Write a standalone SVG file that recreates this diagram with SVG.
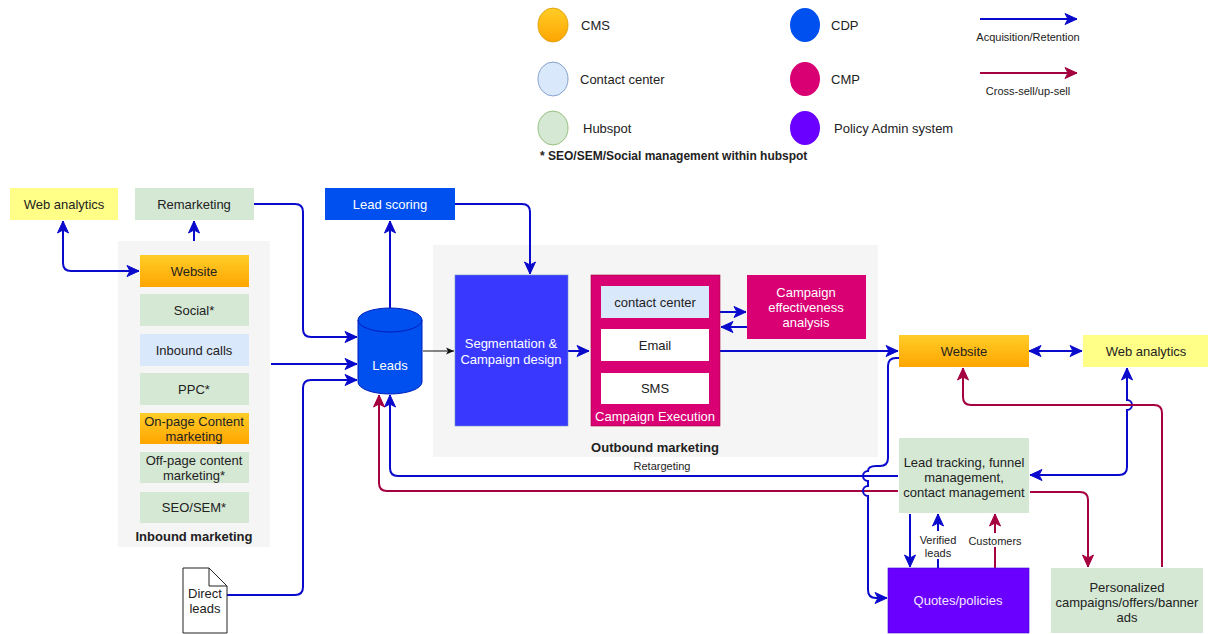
<svg xmlns="http://www.w3.org/2000/svg" width="1208" height="634" viewBox="0 0 1208 634">
<style>
text{font-family:"Liberation Sans",Arial,sans-serif;font-size:13px;fill:#222;text-anchor:middle}
.lt{text-anchor:start}
.w{fill:#fff}
.b{font-weight:bold}
.s{font-size:12px}
.xs{font-size:11px}
.green{fill:#d5e8d4}
.lblue{fill:#dae8fc}
.yellow{fill:#ffff88}
.orange{fill:url(#og)}
.cdp{fill:#0050ef}
.cmp{fill:#d80073}
.pas{fill:#6a00ff}
.grp{fill:#f5f5f5}
.cb{fill:none;stroke:#0a0acc;stroke-width:2}
.cr{fill:none;stroke:#a50040;stroke-width:2}
.ck{fill:none;stroke:#111;stroke-width:1}
.ab{marker-end:url(#mb)}
.ar{marker-end:url(#mr)}
.ab2{marker-start:url(#mb);marker-end:url(#mb)}
</style>
<defs>
<linearGradient id="og" x1="0" y1="0" x2="0" y2="1"><stop offset="0" stop-color="#ffcd28"/><stop offset="1" stop-color="#ffa500"/></linearGradient>
<marker id="mb" markerUnits="userSpaceOnUse" markerWidth="14" markerHeight="14" viewBox="0 0 14 14" refX="13" refY="7" orient="auto-start-reverse"><path d="M1,1.5 L13,7 L1,12.5 L4,7 Z" fill="#0a0acc" stroke="#0a0acc" stroke-width="1"/></marker>
<marker id="mr" markerUnits="userSpaceOnUse" markerWidth="14" markerHeight="14" viewBox="0 0 14 14" refX="13" refY="7" orient="auto-start-reverse"><path d="M1,1.5 L13,7 L1,12.5 L4,7 Z" fill="#a50040" stroke="#a50040" stroke-width="1"/></marker>
<marker id="mk" markerUnits="userSpaceOnUse" markerWidth="10" markerHeight="10" viewBox="0 0 10 10" refX="9" refY="5" orient="auto"><path d="M1,1.5 L9,5 L1,8.5 L3,5 Z" fill="#111"/></marker>
</defs>
<rect width="1208" height="634" fill="#fff"/>

<!-- Legend -->
<g id="legend">
<ellipse cx="553" cy="25" rx="15" ry="17" class="orange" stroke="#d79b00" stroke-width="0.8"/>
<text x="581" y="30" class="lt">CMS</text>
<ellipse cx="553" cy="79" rx="15" ry="17" class="lblue" stroke="#6c8ebf" stroke-width="0.8"/>
<text x="580" y="84" class="lt">Contact center</text>
<ellipse cx="553" cy="128" rx="15" ry="17" class="green" stroke="#82b366" stroke-width="0.8"/>
<text x="583" y="133" class="lt">Hubspot</text>
<ellipse cx="805" cy="25" rx="15" ry="17" class="cdp"/>
<text x="831" y="30" class="lt">CDP</text>
<ellipse cx="805" cy="79" rx="15" ry="17" class="cmp"/>
<text x="831" y="84" class="lt">CMP</text>
<ellipse cx="805" cy="128" rx="15" ry="17" class="pas"/>
<text x="834" y="133" class="lt">Policy Admin system</text>
<text x="540" y="160" class="lt b s">* SEO/SEM/Social management within hubspot</text>
<path d="M980,19 L1077,19" class="cb ab"/>
<text x="1028" y="41" class="xs">Acquisition/Retention</text>
<path d="M980,73 L1077,73" class="cr ar"/>
<text x="1028" y="95" class="xs">Cross-sell/up-sell</text>
</g>

<!-- Groups -->
<g id="inbound-marketing">
<rect x="118" y="241" width="152" height="306" class="grp"/>
<text x="194" y="541" class="b">Inbound marketing</text>
</g>
<g id="outbound-marketing">
<rect x="433" y="245" width="445" height="212" class="grp"/>
<text x="655" y="452" class="b">Outbound marketing</text>
</g>

<!-- Connectors -->
<g id="connectors">
<path d="M63,221 L63,263 Q63,271 71,271 L139,271" class="cb ab2"/>
<path d="M194,241 L194,221" class="cb ab"/>
<path d="M254,204 L295,204 Q303,204 303,212 L303,329 Q303,337 311,337 L357,337" class="cb ab"/>
<path d="M271,364 L357,364" class="cb ab"/>
<path d="M227,595 L295,595 Q303,595 303,587 L303,388 Q303,380 311,380 L357,380" class="cb ab"/>
<path d="M390,308 L390,221" class="cb ab"/>
<path d="M455,204 L522,204 Q530,204 530,212 L530,274" class="cb ab"/>
<path d="M423,351 L454,351" class="ck" marker-end="url(#mk)"/>
<path d="M568,351 L589,351" class="cb ab"/>
<path d="M720,312 L746,312" class="cb ab"/>
<path d="M747,327 L721,327" class="cb ab"/>
<path d="M720,351 L898,351" class="cb ab"/>
<path d="M1029,351 L1082,351" class="cb ab2"/>
<path d="M1127,368 L1127,400 A5,5 0 0 1 1127,410 L1127,467 Q1127,475 1119,475 L1030,475" class="cb ab2"/>
<path d="M1162,567 L1162,413 Q1162,405 1154,405 L971,405 Q963,405 963,397 L963,368" class="cr ar"/>
<path d="M898,476 L398,476 Q390,476 390,468 L390,395" class="cb ab"/>
<path d="M898,491 L387,491 Q379,491 379,483 L379,395" class="cr ar"/>
<path d="M1030,492 L1080,492 Q1088,492 1088,500 L1088,567" class="cr ar"/>
<path d="M910,514 L910,567" class="cb ab"/>
<path d="M938,568 L938,514" class="cb ab"/>
<path d="M995,568 L995,514" class="cr ar"/>
<path d="M899,358 L896,358 Q888,358 888,366 L888,458 Q888,466 880,466 L876,466 Q868,466 868,471 A5,5 0 0 0 868,481 L868,486 A5,5 0 0 0 868,496 L868,590 Q868,598 876,598 L887,598" class="cb ab"/>
<text x="662" y="470" class="xs">Retargeting</text>
<rect x="918" y="531" width="40" height="28" fill="#fff"/>
<text x="938" y="544" class="xs">Verified</text>
<text x="938" y="557" class="xs">leads</text>
<rect x="968" y="533" width="54" height="14" fill="#fff"/>
<text x="995" y="545" class="xs">Customers</text>
</g>

<!-- Nodes -->
<g id="web-analytics-left"><rect x="10" y="188" width="108" height="32" class="yellow"/><text x="64" y="209">Web analytics</text></g>
<g id="remarketing"><rect x="135" y="188" width="119" height="32" class="green"/><text x="194" y="209">Remarketing</text></g>
<g id="website-left"><rect x="140" y="255" width="109" height="32" class="orange"/><text x="194" y="276">Website</text></g>
<g id="social"><rect x="140" y="294" width="109" height="32" class="green"/><text x="194" y="315">Social*</text></g>
<g id="inbound-calls"><rect x="140" y="334" width="109" height="32" class="lblue"/><text x="194" y="355">Inbound calls</text></g>
<g id="ppc"><rect x="140" y="373" width="109" height="32" class="green"/><text x="194" y="394">PPC*</text></g>
<g id="onpage"><rect x="140" y="413" width="109" height="31" class="orange"/><text x="194" y="426">On-page Content</text><text x="194" y="441">marketing</text></g>
<g id="offpage"><rect x="140" y="452" width="109" height="31" class="green"/><text x="194" y="465">Off-page content</text><text x="194" y="480">marketing*</text></g>
<g id="seosem"><rect x="140" y="492" width="109" height="31" class="green"/><text x="194" y="512">SEO/SEM*</text></g>
<g id="direct-leads"><path d="M183,568 L209,568 L227,586 L227,633 L183,633 Z" fill="#fff" stroke="#222" stroke-width="1"/><path d="M209,568 L209,586 L227,586" fill="none" stroke="#222" stroke-width="1"/><text x="205" y="598">Direct</text><text x="205" y="613">leads</text></g>
<g id="leads"><path d="M358,320 A32,12 0 0 1 422,320 L422,382 A32,12 0 0 1 358,382 Z" class="cdp" stroke="#001dbc" stroke-width="1"/><path d="M358,320 A32,12 0 0 0 422,320" fill="none" stroke="#001dbc" stroke-width="1"/><text x="390" y="370" class="w">Leads</text></g>
<g id="lead-scoring"><rect x="325" y="188" width="130" height="32" class="cdp"/><text x="390" y="209" class="w">Lead scoring</text></g>
<g id="segmentation"><rect x="455" y="275" width="113" height="151" fill="#3838ff" stroke="#6c8ebf" stroke-width="0.6"/><text x="511" y="348" class="w">Segmentation &amp;</text><text x="511" y="364" class="w">Campaign design</text></g>
<g id="campaign-execution"><rect x="591" y="275" width="129" height="151" class="cmp" stroke="#a50040" stroke-width="0.6"/>
<rect x="601" y="286" width="108" height="32" class="lblue"/><text x="655" y="307">contact center</text>
<rect x="601" y="329" width="108" height="32" fill="#fff"/><text x="655" y="350">Email</text>
<rect x="601" y="373" width="108" height="31" fill="#fff"/><text x="655" y="393">SMS</text>
<text x="655" y="421" class="w">Campaign Execution</text></g>
<g id="campaign-effectiveness"><rect x="747" y="275" width="119" height="64" class="cmp"/><text x="806" y="297" class="w">Campaign</text><text x="806" y="312" class="w">effectiveness</text><text x="806" y="327" class="w">analysis</text></g>
<g id="website-right"><rect x="899" y="335" width="130" height="32" class="orange"/><text x="964" y="356">Website</text></g>
<g id="web-analytics-right"><rect x="1083" y="335" width="125" height="32" class="yellow"/><text x="1146" y="356">Web analytics</text></g>
<g id="lead-tracking"><rect x="899" y="438" width="130" height="75" class="green"/><text x="964" y="467">Lead tracking, funnel</text><text x="964" y="482">management,</text><text x="964" y="497">contact management</text></g>
<g id="quotes-policies"><rect x="888" y="568" width="141" height="65" class="pas" stroke="#3700cc" stroke-width="0.6"/><text x="958" y="605" fill="#f5e6ff" style="fill:#f5e6ff">Quotes/policies</text></g>
<g id="personalized"><rect x="1051" y="568" width="152" height="65" class="green"/><text x="1127" y="592">Personalized</text><text x="1127" y="607">campaigns/offers/banner</text><text x="1127" y="622">ads</text></g>
</svg>
